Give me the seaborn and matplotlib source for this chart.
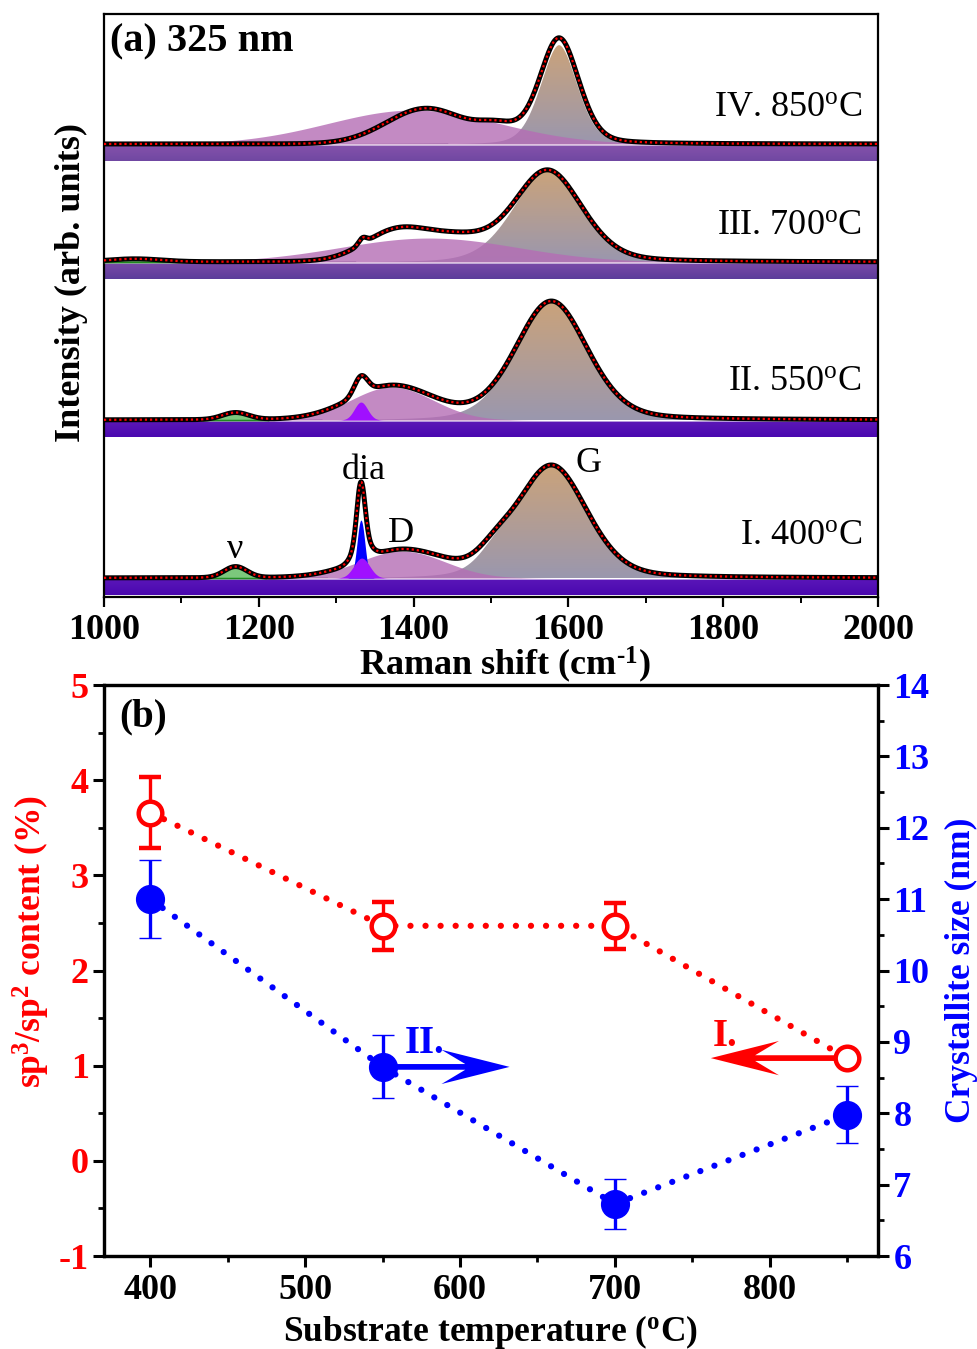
import numpy as np
import matplotlib
matplotlib.use("Agg")
import matplotlib.pyplot as plt
import seaborn as sns
from matplotlib.colors import LinearSegmentedColormap

# ---------------- panel (a): Raman spectra (325 nm) ----------------
spectrum_labels = ["I. 400$^{o}$C", "II. 550$^{o}$C", "III. 700$^{o}$C", "IV. 850$^{o}$C"]

# fitted components (tag, centre cm-1, FWHM cm-1, height arb.)
fit400_tag = ["G", "G", "D", "nu", "dia", "sp3"]
fit400_pos = [1578, 1505, 1385, 1170, 1332, 1333]
fit400_fwhm = [108, 50, 130, 35, 12, 24]
fit400_height = [113, 12, 27, 11, 58, 20]

fit550_tag = ["G", "D", "nu", "sp3"]
fit550_pos = [1578, 1372, 1170, 1332]
fit550_fwhm = [110, 125, 40, 20]
fit550_height = [119, 33, 7, 18]

fit700_tag = ["G", "D", "nu"]
fit700_pos = [1573, 1420, 1040]
fit700_fwhm = [105, 270, 80]
fit700_height = [92, 24, 3]

fit850_tag = ["G", "D"]
fit850_pos = [1588, 1400]
fit850_fwhm = [58, 260]
fit850_height = [100, 34]

# measured spectra described by their peaks (centre, FWHM, height)
meas400_pos = [1578, 1505, 1385, 1170, 1332, 1333]
meas400_fwhm = [108, 50, 130, 35, 12, 24]
meas400_height = [113, 12, 27, 11, 58, 20]

meas550_pos = [1578, 1372, 1170, 1332]
meas550_fwhm = [110, 125, 40, 20]
meas550_height = [119, 33, 7, 18]

meas700_pos = [1573, 1380, 1460, 1334, 1040]
meas700_fwhm = [105, 100, 90, 12, 80]
meas700_height = [92, 31, 18, 6, 3]

meas850_pos = [1588, 1416, 1510]
meas850_fwhm = [60, 120, 60]
meas850_height = [106, 35, 13]

# ---------------- panel (b) ----------------
temperature = [400, 550, 700, 850]
sp3_sp2 = [3.66, 2.47, 2.47, 1.08]
sp3_sp2_err = [0.37, 0.25, 0.24, np.nan]
crystallite = [11.0, 8.65, 6.73, 7.98]
crystallite_err = [0.55, 0.44, 0.35, 0.40]

# ---------------- style ----------------
sns.set_theme(style="ticks")
plt.rcParams["font.family"] = ["Liberation Serif", "DejaVu Serif"]
plt.rcParams["font.weight"] = "bold"
plt.rcParams["axes.labelweight"] = "bold"
plt.rcParams["axes.unicode_minus"] = False
plt.rcParams["mathtext.fontset"] = "custom"
plt.rcParams["mathtext.rm"] = "Liberation Serif"
plt.rcParams["mathtext.it"] = "Liberation Serif:italic"
plt.rcParams["mathtext.bf"] = "Liberation Serif:bold"
plt.rcParams["mathtext.default"] = "regular"
for key in ["text.color", "axes.labelcolor", "xtick.color", "ytick.color", "axes.edgecolor"]:
    plt.rcParams[key] = "black"

fig = plt.figure(figsize=(9.77, 13.49), dpi=100)
axA = fig.add_axes([0.1064, 0.5574, 0.7923, 0.4322])
axB = fig.add_axes([0.1064, 0.0689, 0.7923, 0.4233])

raman_x = np.linspace(1000, 2000, 2001)


def profile(x, c, w, h, eta):
    g = np.exp(-4 * np.log(2) * ((x - c) / w) ** 2)
    l = 1.0 / (1.0 + 4 * ((x - c) / w) ** 2)
    return h * ((1 - eta) * g + eta * l)


def comp_sum(pos, fwhm, height):
    y = np.zeros_like(raman_x)
    for c, w, h in zip(pos, fwhm, height):
        eta = 0.25 if (w > 55 and c > 1540) else 0.0
        y += profile(raman_x, c, w, h, eta)
    return y


def gradient_fill(ax, x, ylo, yhi, c_top, c_bot, z):
    poly = ax.fill_between(x, ylo, yhi, facecolor="none", edgecolor="none", zorder=z)
    path = poly.get_paths()[0]
    cmap = LinearSegmentedColormap.from_list("g", [c_bot, c_top])
    grad = np.linspace(0, 1, 256)[:, None]
    im = ax.imshow(grad, cmap=cmap, aspect="auto", origin="lower",
                   extent=[x.min(), x.max(), float(np.min(ylo)), float(np.max(yhi))],
                   zorder=z, interpolation="bilinear")
    im.set_clip_path(path, transform=ax.transData)


offsets = [19, 177, 335, 453]
band_cols = [("#5a16b8", "#4a08b0"), ("#5c18b6", "#4a08b0"),
             ("#7a4aa8", "#5c3c9a"), ("#8552ab", "#7048a2")]
fits = [(fit400_tag, fit400_pos, fit400_fwhm, fit400_height),
        (fit550_tag, fit550_pos, fit550_fwhm, fit550_height),
        (fit700_tag, fit700_pos, fit700_fwhm, fit700_height),
        (fit850_tag, fit850_pos, fit850_fwhm, fit850_height)]
meas = [(meas400_pos, meas400_fwhm, meas400_height),
        (meas550_pos, meas550_fwhm, meas550_height),
        (meas700_pos, meas700_fwhm, meas700_height),
        (meas850_pos, meas850_fwhm, meas850_height)]
label_y = [62, 216, 372, 490]

for k in range(4):
    off = offsets[k]
    tags, pos, fw, hh = fits[k]
    gradient_fill(axA, raman_x, np.full_like(raman_x, off - 17.0), np.full_like(raman_x, off - 1.5),
                  band_cols[k][0], band_cols[k][1], 1)
    comps = {}
    for t, c, w, h in zip(tags, pos, fw, hh):
        eta = 0.25 if t == "G" else 0.0
        comps.setdefault(t, np.zeros_like(raman_x))
        comps[t] = comps[t] + profile(raman_x, c, w, h, eta)
    base = np.full_like(raman_x, off)
    if "G" in comps:
        gradient_fill(axA, raman_x, base, off + comps["G"], "#cba37a", "#9a97ae", 2)
        edge = np.where(comps["G"] > 1.0, off + comps["G"], np.nan)
        axA.plot(raman_x, edge, color="white", lw=1.6, zorder=2.1)
    if "D" in comps:
        axA.fill_between(raman_x, base, off + comps["D"], color="#b56db5", alpha=0.8, lw=0, zorder=2.5)
    if "nu" in comps:
        m = comps["nu"] > 0.3
        axA.fill_between(raman_x, base, off + comps["nu"], where=m, facecolor="#7cc87c",
                         edgecolor="#1f8a1f", lw=1.2, zorder=3)
    if "dia" in comps:
        axA.fill_between(raman_x, base, off + comps["dia"], color="#0000ff", lw=0, zorder=3.1)
    if "sp3" in comps:
        axA.fill_between(raman_x, base, off + comps["sp3"], color="#a010ff", lw=0, zorder=3.2)
    mp, mw, mh = meas[k]
    data_y = off + comp_sum(mp, mw, mh)
    sns.lineplot(x=raman_x, y=data_y, ax=axA, color="black", lw=3.6, zorder=5)
    sns.lineplot(x=raman_x, y=data_y, ax=axA, color="red", lw=1.6,
                 linestyle=(0, (1, 1.3)), zorder=6)
    axA.text(1979, label_y[k], spectrum_labels[k], ha="right", va="center",
             fontsize=26, fontweight="normal", zorder=7)

axA.text(1170, 48, "\u03bd", ha="center", va="center", fontsize=26, fontweight="normal")
axA.text(1335, 127, "dia", ha="center", va="center", fontsize=26, fontweight="normal")
axA.text(1384, 64, "D", ha="center", va="center", fontsize=26, fontweight="normal")
axA.text(1626, 134, "G", ha="center", va="center", fontsize=26, fontweight="normal")
axA.text(0.008, 0.952, "(a) 325 nm", transform=axA.transAxes, ha="left", va="center",
         fontsize=29, fontweight="bold")

axA.set_xlim(1000, 2000)
axA.set_ylim(0, 583)
axA.set_xticks([1000, 1200, 1400, 1600, 1800, 2000])
axA.set_xticks(np.arange(1100, 2000, 200), minor=True)
axA.set_yticks([])
axA.tick_params(axis="x", which="major", direction="out", length=7, width=1.6, labelsize=26, pad=5)
axA.tick_params(axis="x", which="minor", direction="out", length=4, width=1.4)
for lab in axA.get_xticklabels():
    lab.set_fontweight("bold")
for s in axA.spines.values():
    s.set_linewidth(1.6)
    s.set_visible(True)
axA.set_xlabel("Raman shift (cm$^{\u20101}$)", fontsize=26, fontweight="bold")
axA.xaxis.set_label_coords(0.518, -0.082)
axA.set_ylabel("Intensity (arb. units)", fontsize=26, fontweight="bold")
axA.yaxis.set_label_coords(-0.021, 0.539)

# ---------------- panel (b) ----------------
ax2 = axB.twinx()
dot = (0, (0.01, 2.4))
sns.lineplot(x=temperature, y=sp3_sp2, ax=axB, color="red", lw=4.5,
             linestyle=dot, dash_capstyle="round", zorder=3)
axB.errorbar(temperature, sp3_sp2, yerr=sp3_sp2_err, fmt="o", ms=17, mfc="white", mec="red",
             mew=3.2, ecolor="red", elinewidth=2.4, capsize=8, capthick=2.4, zorder=5)
sns.lineplot(x=temperature, y=crystallite, ax=ax2, color="blue", lw=4.5,
             linestyle=dot, dash_capstyle="round", zorder=3)
ax2.errorbar(temperature, crystallite, yerr=crystallite_err, fmt="o", ms=20, mfc="blue", mec="blue",
             mew=1, ecolor="blue", elinewidth=2.4, capsize=8, capthick=2.4, zorder=5)

# direction arrows (notched heads)
axB.arrow(850, 1.08, -88, 0, width=0.06, head_width=0.36, head_length=44, overhang=0.35,
          length_includes_head=True, color="red", lw=0, zorder=4)
ax2.arrow(550, 8.65, 82, 0, width=0.08, head_width=0.48, head_length=44, overhang=0.35,
          length_includes_head=True, color="blue", lw=0, zorder=4)
ax2.text(577, 8.98, "II.", color="blue", fontsize=28, fontweight="bold", ha="center", va="center")
axB.text(771, 1.31, "I.", color="red", fontsize=28, fontweight="bold", ha="center", va="center")
axB.text(0.02, 0.945, "(b)", transform=axB.transAxes, fontsize=28, fontweight="bold",
         ha="left", va="center")

axB.set_xlim(370, 870)
axB.set_ylim(-1, 5)
ax2.set_ylim(6, 14)
axB.set_xticks([400, 500, 600, 700, 800])
axB.set_xticks([450, 550, 650, 750, 850], minor=True)
axB.set_yticks(range(-1, 6))
axB.set_yticks(np.arange(-0.5, 5, 1.0), minor=True)
ax2.set_yticks(range(6, 15))
ax2.set_yticks(np.arange(6.5, 14, 1.0), minor=True)
axB.tick_params(axis="x", which="major", direction="out", length=8, width=2.2, labelsize=26, pad=5)
axB.tick_params(axis="x", which="minor", direction="out", length=4.5, width=2.0)
axB.tick_params(axis="y", which="major", direction="out", length=8, width=2.2, labelsize=26,
                labelcolor="red", pad=3)
axB.tick_params(axis="y", which="minor", direction="out", length=4.5, width=2.0)
ax2.tick_params(axis="y", which="major", direction="out", length=8, width=2.2, labelsize=26,
                labelcolor="blue", pad=3)
ax2.tick_params(axis="y", which="minor", direction="out", length=4.5, width=2.0)
for lab in axB.get_xticklabels() + axB.get_yticklabels() + ax2.get_yticklabels():
    lab.set_fontweight("bold")
for a in (axB, ax2):
    for s in a.spines.values():
        s.set_linewidth(2.3)
        s.set_visible(True)

axB.set_xlabel("Substrate temperature ($^{o}$C)", fontsize=25.5, fontweight="bold")
axB.xaxis.set_label_coords(0.499, -0.1)
axB.set_ylabel("sp$^{3}$/sp$^{2}$ content (%)", fontsize=25.5, fontweight="bold", color="red")
axB.yaxis.set_label_coords(-0.067, 0.55)
ax2.set_ylabel("Crystallite size (nm)", fontsize=25.5, fontweight="bold", color="blue",
               rotation=90)
ax2.yaxis.set_label_coords(1.086, 0.5)

fig.savefig("out.png", dpi=100)
